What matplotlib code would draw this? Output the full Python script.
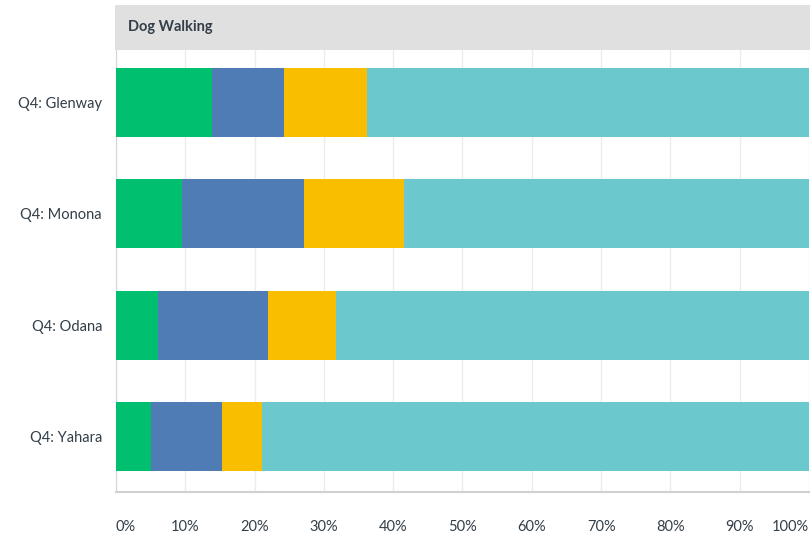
import numpy as np
import matplotlib.pyplot as plt

plt.rcParams['font.family'] = ['Lato', 'DejaVu Sans']

categories = ['Q4: Glenway', 'Q4: Monona', 'Q4: Odana', 'Q4: Yahara']
green = [13.9, 9.5, 6.1, 5.1]
blue = [10.3, 17.7, 15.9, 10.2]
yellow = [12.0, 14.4, 9.8, 5.8]
teal = [63.8, 58.4, 68.2, 78.9]
series = [green, blue, yellow, teal]
colors = ['#00bf6f', '#507cb6', '#f9be00', '#6bc8cd']
ticks = [0, 10, 20, 30, 40, 50, 60, 70, 80, 90, 100]

fig = plt.figure(figsize=(8.1, 5.33), dpi=100)
ax = fig.add_axes([116/810, 1 - 492/533, 693/810, 442/533])

y = np.arange(len(categories))
left = np.zeros(len(categories))
for vals, c in zip(series, colors):
    ax.barh(y, vals, left=left, height=0.62, color=c, zorder=3)
    left += np.array(vals)

ax.set_xlim(0, 100)
ax.set_ylim(3.4985, -0.472)
ax.set_yticks(y)
ax.set_yticklabels(categories, color='#333e48', fontsize=10.5)
ax.set_xticks(ticks)
ax.set_xticklabels([f'{t}%' for t in ticks], color='#333e48', fontsize=10.5)
lbls = ax.get_xticklabels()
lbls[0].set_horizontalalignment('left')
lbls[-1].set_horizontalalignment('right')
ax.tick_params(axis='both', length=0)
ax.tick_params(axis='x', pad=20)
ax.tick_params(axis='y', pad=10)
ax.grid(axis='x', color='#ececec', linewidth=1, zorder=0)
for s in ['top', 'right']:
    ax.spines[s].set_visible(False)
ax.spines['left'].set_color('#d6d6d6')
ax.spines['bottom'].set_color('#d0d0d0')
ax.spines['bottom'].set_linewidth(1.5)

# header band
hax = fig.add_axes([115/810, 1 - 50/533, 695/810, 45/533])
hax.set_facecolor('#e0e0e0')
hax.set_xticks([])
hax.set_yticks([])
for s in hax.spines.values():
    s.set_visible(False)
hax.text(13/695, 0.5, 'Dog Walking', transform=hax.transAxes, va='center',
         ha='left', fontsize=10.5, fontweight='bold', color='#333e48')

fig.savefig('out.png', dpi=100)
